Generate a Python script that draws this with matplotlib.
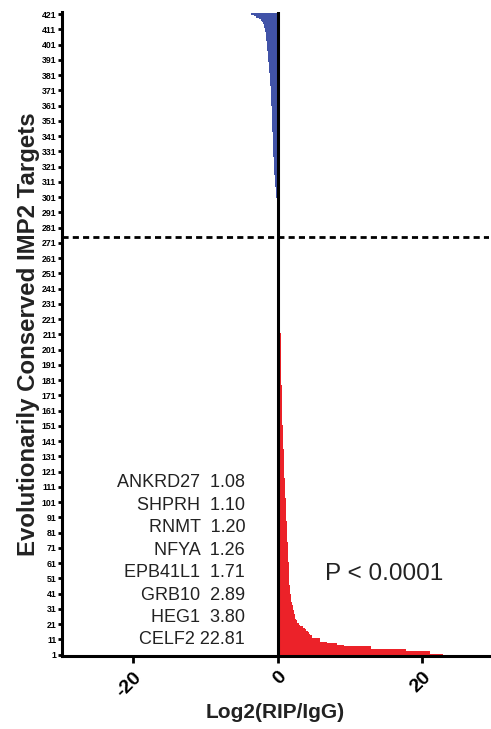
import numpy as np
import matplotlib
matplotlib.use("Agg")
import matplotlib.pyplot as plt

plt.rcParams['font.family'] = ['Liberation Sans', 'DejaVu Sans']

# log2(RIP/IgG) per target, rank 1 at the bottom
red_values = [
    22.81, 21.0, 21.0, 17.7, 12.9, 12.9, 9.2, 8.2, 6.8, 5.9,
    5.9, 4.8, 4.7, 4.5, 4.3, 4.2, 3.9, 3.8, 3.5, 3.1,
    2.9, 2.7, 2.6, 2.5, 2.45, 2.4, 2.35, 2.3, 2.25, 2.2,
    2.15, 2.1, 2.05, 2.0, 1.95, 1.9, 1.9, 1.85, 1.8, 1.78,
    1.75, 1.72, 1.7, 1.68, 1.66, 1.64, 1.63, 1.62, 1.61, 1.6,
    1.59, 1.58, 1.57, 1.56, 1.55, 1.54, 1.53, 1.52, 1.51, 1.5,
    1.5, 1.49, 1.48, 1.46, 1.45, 1.44, 1.43, 1.42, 1.41, 1.4,
    1.39, 1.38, 1.37, 1.36, 1.35, 1.34, 1.33, 1.32, 1.31, 1.3,
    1.29, 1.28, 1.27, 1.26, 1.25, 1.24, 1.23, 1.22, 1.21, 1.2,
    1.2, 1.19, 1.18, 1.17, 1.16, 1.15, 1.14, 1.13, 1.12, 1.11,
    1.1, 1.09, 1.08, 1.07, 1.06, 1.05, 1.04, 1.03, 1.02, 1.01,
    1.0, 0.99, 0.98, 0.97, 0.96, 0.95, 0.94, 0.93, 0.92, 0.91,
    0.9, 0.89, 0.88, 0.87, 0.86, 0.86, 0.85, 0.85, 0.84, 0.84,
    0.83, 0.83, 0.82, 0.82, 0.81, 0.8, 0.8, 0.79, 0.78, 0.78,
    0.77, 0.76, 0.75, 0.74, 0.73, 0.72, 0.71, 0.7, 0.69, 0.68,
    0.67, 0.66, 0.66, 0.65, 0.64, 0.63, 0.63, 0.62, 0.62, 0.61,
    0.61, 0.6, 0.6, 0.59, 0.59, 0.58, 0.58, 0.57, 0.57, 0.56,
    0.56, 0.55, 0.55, 0.54, 0.54, 0.53, 0.53, 0.52, 0.52, 0.51,
    0.51, 0.5, 0.5, 0.5, 0.49, 0.49, 0.49, 0.48, 0.48, 0.48,
    0.47, 0.47, 0.47, 0.46, 0.46, 0.46, 0.45, 0.45, 0.45, 0.44,
    0.44, 0.44, 0.43, 0.43, 0.42, 0.42, 0.41, 0.41, 0.4, 0.4,
    0.39, 0.38, 0.37, 0.36, 0.35, 0.34, 0.33, 0.32, 0.31, 0.3,
    0.3, 0.29, 0.29, 0.28, 0.28, 0.27, 0.27, 0.26, 0.26, 0.25,
    0.25, 0.24, 0.23, 0.22, 0.21, 0.2, 0.19, 0.18, 0.17, 0.16,
    0.15, 0.15, 0.14, 0.14, 0.13, 0.13, 0.12, 0.12, 0.11, 0.11,
    0.1, 0.1, 0.09, 0.09, 0.08, 0.08, 0.07, 0.07, 0.06, 0.06,
    0.05, 0.05, 0.04, 0.04, 0.03, 0.03, 0.03, 0.02, 0.02, 0.02,
    0.01, 0.01, 0.01, 0.01, 0.0,
]

blue_values = [
    -0.01, -0.01, -0.02, -0.02, -0.03, -0.03, -0.04, -0.04, -0.05, -0.05,
    -0.06, -0.06, -0.07, -0.07, -0.08, -0.08, -0.09, -0.1, -0.1, -0.11,
    -0.12, -0.13, -0.14, -0.15, -0.16,
    -0.17, -0.19, -0.21, -0.23, -0.25, -0.27, -0.29, -0.31, -0.33, -0.35,
    -0.37, -0.39, -0.4, -0.42, -0.43, -0.45, -0.46, -0.48, -0.49, -0.5,
    -0.51, -0.52, -0.53, -0.54, -0.55, -0.56, -0.57, -0.58, -0.59, -0.6,
    -0.6, -0.61, -0.62, -0.62, -0.63, -0.64, -0.65, -0.66, -0.67, -0.68,
    -0.69, -0.7, -0.71, -0.72, -0.73, -0.74, -0.75, -0.76, -0.77, -0.78,
    -0.78, -0.79, -0.8, -0.8, -0.81, -0.82, -0.82, -0.83, -0.84, -0.85,
    -0.86, -0.87, -0.88, -0.89, -0.9, -0.91, -0.92, -0.93, -0.94, -0.95,
    -0.96, -0.97, -0.98, -1.0, -1.01, -1.03, -1.05, -1.06, -1.08, -1.1,
    -1.11, -1.13, -1.15, -1.17, -1.19, -1.21, -1.23, -1.25, -1.27, -1.29,
    -1.3, -1.32, -1.34, -1.36, -1.38, -1.4, -1.42, -1.44, -1.46, -1.48,
    -1.5, -1.52, -1.54, -1.56, -1.58, -1.6, -1.62, -1.65, -1.68, -1.72,
    -1.78, -1.84, -1.9, -1.95, -2.0, -2.1, -2.3, -2.6, -3.0, -3.3,
    -3.7,
]

genes = ["ANKRD27", "SHPRH", "RNMT", "NFYA", "EPB41L1", "GRB10", "HEG1", "CELF2"]
gene_values = ["1.08", "1.10", "1.20", "1.26", "1.71", "2.89", "3.80", "22.81"]

cutoff = 275
ytick_labels = list(range(1, 422, 10))

red_rank = np.arange(1, len(red_values) + 1)
blue_rank = np.arange(len(red_values) + 1, len(red_values) + len(blue_values) + 1)

fig = plt.figure(figsize=(4.91, 7.29), dpi=100)
ax = fig.add_axes([0.1263, 0.1001, 0.8697, 0.8834])

ax.barh(red_rank, red_values, height=1.0, color="#EC2229", linewidth=0)
ax.barh(blue_rank, blue_values, height=1.0, color="#4153A8", linewidth=0)

ax.axvline(0, color="black", lw=2.2, zorder=3)
ax.axhline(cutoff, color="black", lw=2, dashes=(2.2, 1.5), zorder=3)

ax.set_xlim(-29.8, 29.2)
ax.set_ylim(0, 422.3)

ax.set_yticks(ytick_labels)
ax.set_yticklabels([str(t) for t in ytick_labels], fontsize=6.3, fontweight="bold")
ax.tick_params(axis="y", length=3, width=2, pad=1)

ax.set_xticks([-20, 0, 20])
ax.set_xticklabels(["-20", "0", "20"], fontsize=14, fontweight="bold",
                   rotation=45, ha="right", rotation_mode="anchor")
ax.tick_params(axis="x", length=5, width=2, pad=4)

for side in ["top", "right"]:
    ax.spines[side].set_visible(False)
for side in ["left", "bottom"]:
    ax.spines[side].set_linewidth(2.2)

fig.text(29 / 491, 1 - 334 / 729, "Evolutionarily Conserved IMP2 Targets",
         rotation=90, ha="center", va="center", fontsize=17.3, fontweight="bold",
         color="#222222")
ax.set_xlabel("Log2(RIP/IgG)", fontsize=15, fontweight="bold", labelpad=2,
              color="#222222")

# gene annotation block
for k, (g, v) in enumerate(zip(genes, gene_values)):
    ypos = 113.5 - k * 14.7
    sep = " " if len(v) > 4 else "  "
    ax.text(-4.5, ypos, g + sep + v, ha="right", va="center",
            fontsize=13, color="#222222")

ax.text(6.5, 54, "P < 0.0001", ha="left", va="center", fontsize=17.5, color="#222222")

fig.savefig("out.png", dpi=100)
